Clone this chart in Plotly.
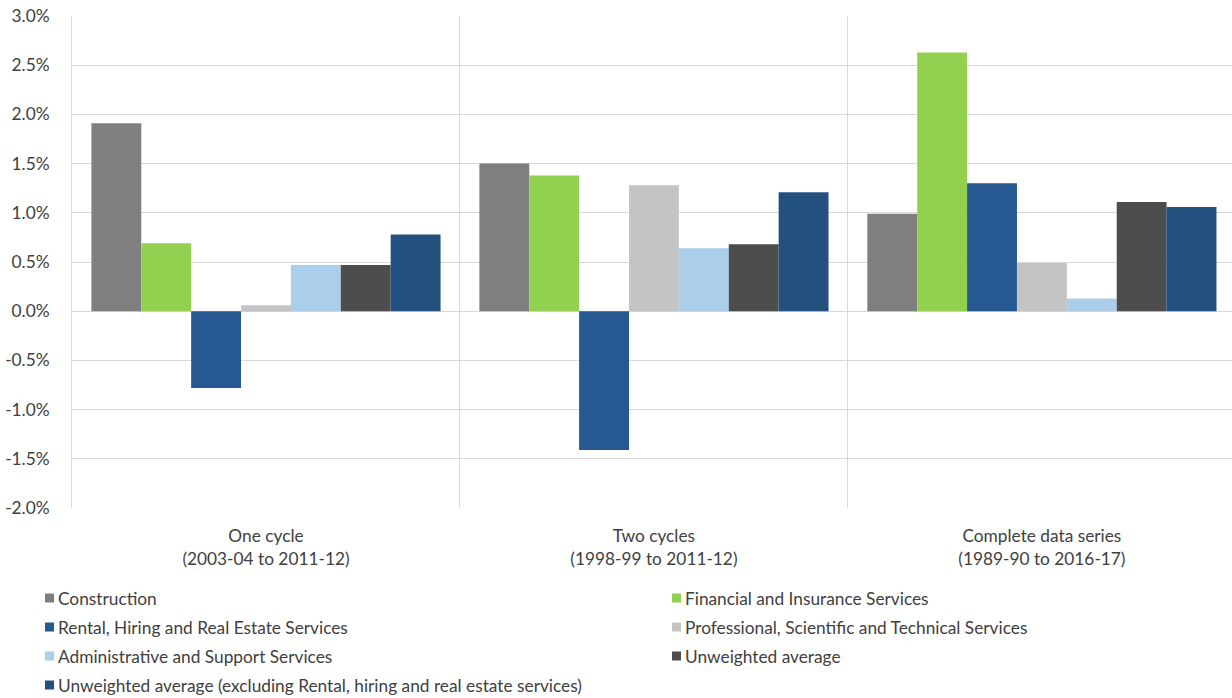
import plotly.graph_objects as go

# Period categories (x axis)
categories = [
    "One cycle<br>(2003-04 to 2011-12)",
    "Two cycles<br>(1998-99 to 2011-12)",
    "Complete data series<br>(1989-90 to 2016-17)",
]

# Average annual growth rates, per cent
construction = [1.91, 1.50, 0.99]
financial = [0.69, 1.38, 2.63]
rental = [-0.78, -1.41, 1.30]
professional = [0.06, 1.28, 0.49]
administrative = [0.47, 0.64, 0.13]
unweighted = [0.47, 0.68, 1.11]
unweighted_excl = [0.78, 1.21, 1.06]

series_names = [
    "Construction",
    "Financial and Insurance Services",
    "Rental, Hiring and Real Estate Services",
    "Professional, Scientific and Technical Services",
    "Administrative and Support Services",
    "Unweighted average",
    "Unweighted average (excluding Rental, hiring and real estate services)",
]
series_values = [construction, financial, rental, professional,
                 administrative, unweighted, unweighted_excl]
series_colors = ["#7f7f7f", "#92d050", "#265891", "#c4c4c4",
                 "#abcfeb", "#4d4d4d", "#22507f"]

y_ticks = [-2.0, -1.5, -1.0, -0.5, 0.0, 0.5, 1.0, 1.5, 2.0, 2.5, 3.0]

FONT = "Lato"
FS = 17.3
TEXT = "#404040"
GRID = "#d9d9d9"

W, H = 1232, 698
ML, MT, MB = 72, 16, 190
plot_w = W - ML
plot_h = H - MT - MB

fig = go.Figure()
for name, vals, col in zip(series_names, series_values, series_colors):
    fig.add_trace(go.Bar(
        x=categories, y=vals, name=name,
        marker=dict(color=col, line=dict(width=0)),
        showlegend=False,
    ))

fig.update_layout(
    width=W, height=H,
    margin=dict(l=ML, r=0, t=MT, b=MB, pad=0),
    paper_bgcolor="white", plot_bgcolor="white",
    barmode="group", bargap=0.1, bargroupgap=0,
    font=dict(family=FONT, size=FS, color=TEXT),
    xaxis=dict(
        type="category",
        categoryorder="array", categoryarray=categories,
        range=[-0.5, 2.49],
        tickson="boundaries", ticks="",
        showgrid=True, gridcolor=GRID, gridwidth=1,
        showline=False, zeroline=False,
        tickfont=dict(family=FONT, size=FS, color=TEXT),
        ticklabelstandoff=16,
    ),
    yaxis=dict(
        range=[-2.0, 3.0],
        tickmode="array", tickvals=y_ticks,
        ticktext=[f"{v:.1f}%" for v in y_ticks],
        showgrid=True, gridcolor=GRID, gridwidth=1,
        zeroline=True, zerolinecolor=GRID, zerolinewidth=1,
        showline=True, linecolor=GRID, linewidth=1,
        ticks="", ticklabelstandoff=18,
        tickfont=dict(family=FONT, size=FS, color=TEXT),
    ),
)

# Legend laid out in two columns below the chart
def px_x(x):
    return (x - ML) / plot_w

def px_y(y):
    return (H - MB - y) / plot_h

legend_cols = [45, 672]
legend_rows = [598, 627, 656, 685]
sq = 9
for i, (name, col) in enumerate(zip(series_names, series_colors)):
    cx = legend_cols[i % 2]
    cy = legend_rows[i // 2]
    fig.add_shape(
        type="rect", xref="paper", yref="paper",
        x0=px_x(cx), x1=px_x(cx + sq),
        y0=px_y(cy - sq / 2), y1=px_y(cy + sq / 2),
        fillcolor=col, line=dict(width=0),
    )
    fig.add_annotation(
        xref="paper", yref="paper",
        x=px_x(cx + sq + 2), y=px_y(cy),
        xanchor="left", yanchor="middle",
        text=name, showarrow=False,
        font=dict(family=FONT, size=FS, color=TEXT),
    )

fig.write_html("out.html")
